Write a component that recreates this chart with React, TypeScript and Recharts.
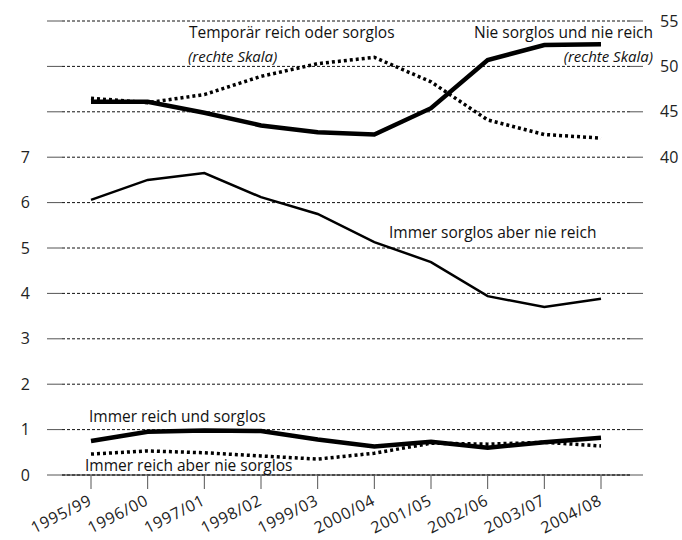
import React from "react";
import { LineChart, Line, XAxis, YAxis, CartesianGrid } from "recharts";

const periods = [
  "1995/99", "1996/00", "1997/01", "1998/02", "1999/03",
  "2000/04", "2001/05", "2002/06", "2003/07", "2004/08",
];

// left scale
const immerSorglosNieReich = [6.06, 6.5, 6.65, 6.12, 5.75, 5.13, 4.69, 3.94, 3.7, 3.88];
const immerReichUndSorglos = [0.75, 0.95, 0.98, 0.97, 0.78, 0.63, 0.73, 0.6, 0.72, 0.82];
const immerReichNieSorglos = [0.46, 0.53, 0.49, 0.42, 0.35, 0.48, 0.7, 0.68, 0.72, 0.64];

// right scale
const nieSorglosNieReich = [46.1, 46.1, 44.9, 43.5, 42.75, 42.5, 45.4, 50.7, 52.35, 52.45];
const temporaerReichOderSorglos = [46.5, 46.0, 46.9, 48.9, 50.3, 51.0, 48.3, 44.1, 42.5, 42.1];

const leftTicks = [0, 1, 2, 3, 4, 5, 6, 7, 8, 9, 10];
const rightTicks = [5, 10, 15, 20, 25, 30, 35, 40, 45, 50, 55];

const data = periods.map((p, i) => ({
  period: p,
  sorglosNieReich: immerSorglosNieReich[i],
  reichUndSorglos: immerReichUndSorglos[i],
  reichNieSorglos: immerReichNieSorglos[i],
  nieNie: nieSorglosNieReich[i],
  temporaer: temporaerReichOderSorglos[i],
}));

const FONT = "'Open Sans', sans-serif";

function XTick(props: any) {
  const { x, y, payload } = props;
  const tx = x + 2;
  const ty = y + 13;
  return (
    <text
      x={tx}
      y={ty}
      transform={`rotate(-27, ${tx}, ${ty})`}
      textAnchor="end"
      fontFamily={FONT}
      fontSize={16}
      letterSpacing={0.7}
      fill="#222"
    >
      {payload.value}
    </text>
  );
}

const labelStyle: React.CSSProperties = {
  position: "absolute",
  fontFamily: FONT,
  fontSize: 15.5,
  color: "#111",
  whiteSpace: "nowrap",
  lineHeight: "18px",
};
const noteStyle: React.CSSProperties = {
  ...labelStyle,
  fontSize: 15,
  fontStyle: "italic",
};

export default function App() {
  return (
    <div style={{ position: "absolute", left: 0, top: 0, width: 682, height: 540, background: "#fff" }}>
      <LineChart width={682} height={540} data={data} margin={{ top: 21, right: 0, bottom: 0, left: 0 }}>
        <CartesianGrid vertical={false} yAxisId="left" stroke="#111" strokeDasharray="3 2" />
        <XAxis
          dataKey="period"
          scale="point"
          padding={{ left: 29, right: 29 }}
          height={65}
          axisLine={{ stroke: "#111" }}
          tickLine={{ stroke: "#555" }}
          tickSize={14}
          tick={<XTick />}
          interval={0}
        />
        <YAxis
          yAxisId="left"
          domain={[0, 10]}
          ticks={leftTicks}
          width={62}
          axisLine={false}
          tickLine={{ stroke: "#555" }}
          tickSize={15}
          tickMargin={17}
          tickFormatter={(v: number) => (v <= 7 ? String(v) : "")}
          tick={{ fontFamily: FONT, fontSize: 16, fill: "#222" }}
        />
        <YAxis
          yAxisId="right"
          orientation="right"
          domain={[5, 55]}
          ticks={rightTicks}
          width={52}
          axisLine={false}
          tickLine={{ stroke: "#555" }}
          tickSize={13}
          tickMargin={17}
          tickFormatter={(v: number) => (v >= 40 ? String(v) : "")}
          tick={{ fontFamily: FONT, fontSize: 16, fill: "#222" }}
        />
        <Line yAxisId="left" dataKey="sorglosNieReich" stroke="#000" strokeWidth={2.5} dot={false} isAnimationActive={false} />
        <Line yAxisId="left" dataKey="reichNieSorglos" stroke="#000" strokeWidth={3.5} strokeDasharray="3 3" dot={false} isAnimationActive={false} />
        <Line yAxisId="left" dataKey="reichUndSorglos" stroke="#000" strokeWidth={4.5} dot={false} isAnimationActive={false} />
        <Line yAxisId="right" dataKey="temporaer" stroke="#000" strokeWidth={3.5} strokeDasharray="3 3" dot={false} isAnimationActive={false} />
        <Line yAxisId="right" dataKey="nieNie" stroke="#000" strokeWidth={4.5} dot={false} isAnimationActive={false} />
      </LineChart>
      <div style={{ ...labelStyle, left: 189, top: 23 }}>Temporär reich oder sorglos</div>
      <div style={{ ...noteStyle, left: 188, top: 47 }}>(rechte Skala)</div>
      <div style={{ ...labelStyle, right: 29, top: 23 }}>Nie sorglos und nie reich</div>
      <div style={{ ...noteStyle, right: 29, top: 47 }}>(rechte Skala)</div>
      <div style={{ ...labelStyle, left: 389, top: 223 }}>Immer sorglos aber nie reich</div>
      <div style={{ ...labelStyle, left: 89, top: 407 }}>Immer reich und sorglos</div>
      <div style={{ ...labelStyle, left: 85, top: 456 }}>Immer reich aber nie sorglos</div>
    </div>
  );
}
